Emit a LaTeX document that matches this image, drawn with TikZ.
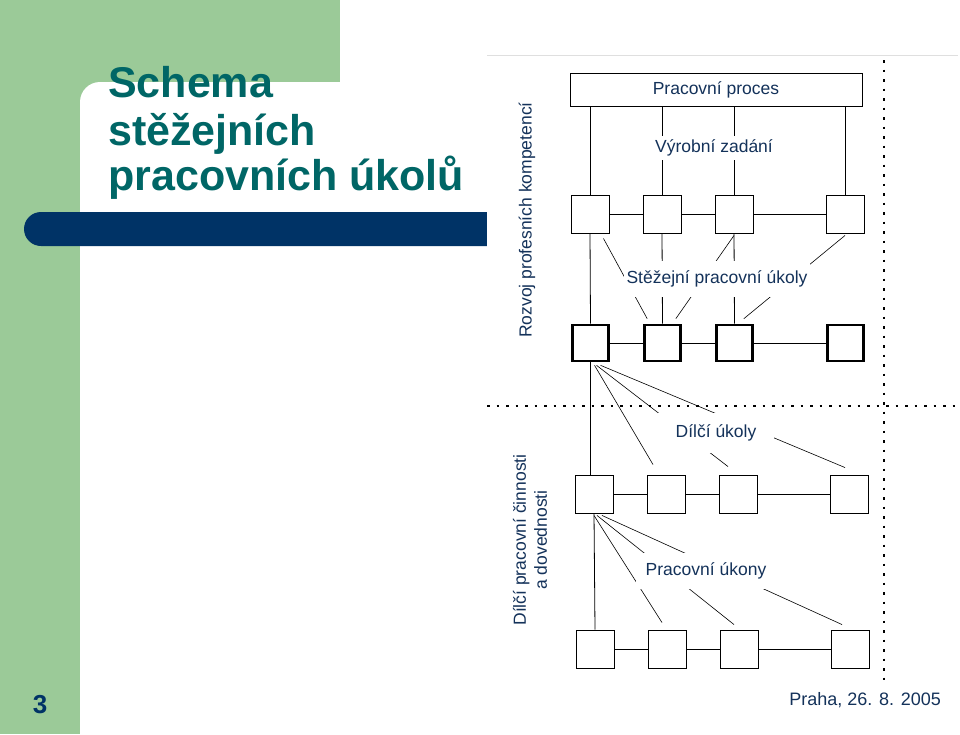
\documentclass[tikz,border=0pt]{standalone}
\usepackage{fontspec}
\setmainfont{Liberation Sans}
\usetikzlibrary{calc}
\begin{document}
\begin{tikzpicture}[x=1pt,y=-1pt,
  bx/.style={draw,line width=0.9pt,minimum size=38pt,inner sep=0pt,fill=white},
  tbx/.style={draw,line width=2.6pt,minimum size=36pt,inner sep=0pt,fill=white},
  lbl/.style={fill=white,text=txt,font=\fontsize{17.5}{20}\selectfont,inner sep=4pt},
  ttl/.style={anchor=base west,font=\bfseries\fontsize{43}{48}\selectfont,text=teal,inner sep=0pt},
  ln/.style={line width=0.8pt},
  dl/.style={line width=0.6pt}]
\definecolor{grn}{RGB}{155,202,152}
\definecolor{navy}{RGB}{0,51,102}
\definecolor{teal}{RGB}{0,102,102}
\definecolor{txt}{RGB}{20,50,90}
\useasboundingbox (0,0) rectangle (960,734);
\fill[white] (0,0) rectangle (960,734);
\fill[grn] (0,0) rectangle (80,734);
\fill[grn] (0,0) rectangle (340,82);
\fill[grn] (80,82) rectangle (110,112);
\fill[white,rounded corners=20pt] (80,400) -- (80,82) -- (340,82) -- (340,400) -- cycle;
\fill[navy,rounded corners=17pt] (24,212) rectangle (540,246);
\fill[white] (487,55) rectangle (958,682);
\node[ttl] (t1) at (108,97) {Schema};
\node[ttl] (t2) at (108,145) {stěžejních};
\node[ttl] (t3) at (108,190) {pracovních úkolů};
\node[font=\bfseries\fontsize{26}{28}\selectfont,text=navy] (num) at (40,705) {3};
\draw[gray!25,line width=0.6pt] (487,55) -- (958,55);
% dotted separators
\draw[line width=2pt,dash pattern=on 2.5pt off 7pt] (884,60) -- (884,680);
\draw[line width=2pt,dash pattern=on 2.5pt off 7pt] (487,406) -- (955,406);
% top box
\node[draw,line width=0.9pt,minimum width=292pt,minimum height=33pt,inner sep=0pt,text=txt,font=\fontsize{17.5}{20}\selectfont] (pp) at (716,89.5) {Pracovní proces};
% rows
\foreach \i/\x in {1/590,2/662,3/734,4/845}{
  \node[bx] (a\i) at (\x,214) {};
  \node[tbx] (b\i) at (\x+0.5,343) {};
  \node[bx] (c\i) at (\x+4,494) {};
  \node[bx] (d\i) at (\x+5,649) {};
}
% verticals from top box
\foreach \i in {1,2,3,4}{ \draw[ln] (pp.south -| a\i) -- (a\i.north); }
\draw[ln] (a1) -- (a2) -- (a3) -- (a4);
\draw[ln] (b1) -- (b2) -- (b3) -- (b4);
\draw[ln] (c1) -- (c2) -- (c3) -- (c4);
\draw[ln] (d1) -- (d2) -- (d3) -- (d4);
\foreach \i in {1,2,3}{ \draw[ln] (a\i.south) -- (b\i.north); }
\draw[ln] (b1.south) -- (c1.north -| b1.south);
\draw[ln] (c1.south) -- (d1.north);
% diagonals
\draw[dl] ($(a1.south east)+(-6,5)$) -- ($(b2.north west)+(4,-5)$);
\draw[dl] ($(a3.south)+(0,2)$) -- ($(b2.north east)+(-6,-5)$);
\draw[dl] ($(a4.south)+(0,2)$) -- ($(b3.north east)+(-10,-5)$);
\draw[dl] ($(b1.south)+(4,3)$) -- ($(c2.north)+(-13,-10)$);
\draw[dl] ($(b1.south)+(6,3)$) -- ($(c3.north)+(-10,-8)$);
\draw[dl] ($(b1.south)+(10,3)$) -- ($(c4.north)+(-4,-7)$);
\draw[dl] ($(c1.south)+(0,2)$) -- ($(d2.north)+(-5,-7)$);
\draw[dl] ($(c1.south)+(3,2)$) -- ($(d3.north)+(-5,-5)$);
\draw[dl] ($(c1.south)+(8,2)$) -- ($(d4.north)+(-8,-5)$);
% labels (white, over lines)
\node[lbl] (vz) at (714,148) {Výrobní zadání};
\node[lbl,inner xsep=3pt,inner ysep=10pt] (sp) at (717,279) {Stěžejní pracovní úkoly};
\node[lbl,inner xsep=18pt,inner ysep=12pt] (du) at (716,433) {Dílčí úkoly};
\node[lbl,inner xsep=10pt,inner ysep=10pt] (pu) at (706,571) {Pracovní úkony};
% side labels
\node[rotate=90,text=txt,font=\fontsize{17.5}{20}\selectfont] (rk) at (527,220) {Rozvoj profesních kompetencí};
\node[rotate=90,text=txt,font=\fontsize{17.5}{21}\selectfont,align=center] (dc) at (530,540) {Dílčí pracovní činnosti\\a dovednosti};
\node[text=txt,font=\fontsize{18}{20}\selectfont,anchor=base east,inner sep=0pt] (praha) at (941,705) {Praha, 26. 8. 2005};
\end{tikzpicture}
\end{document}
